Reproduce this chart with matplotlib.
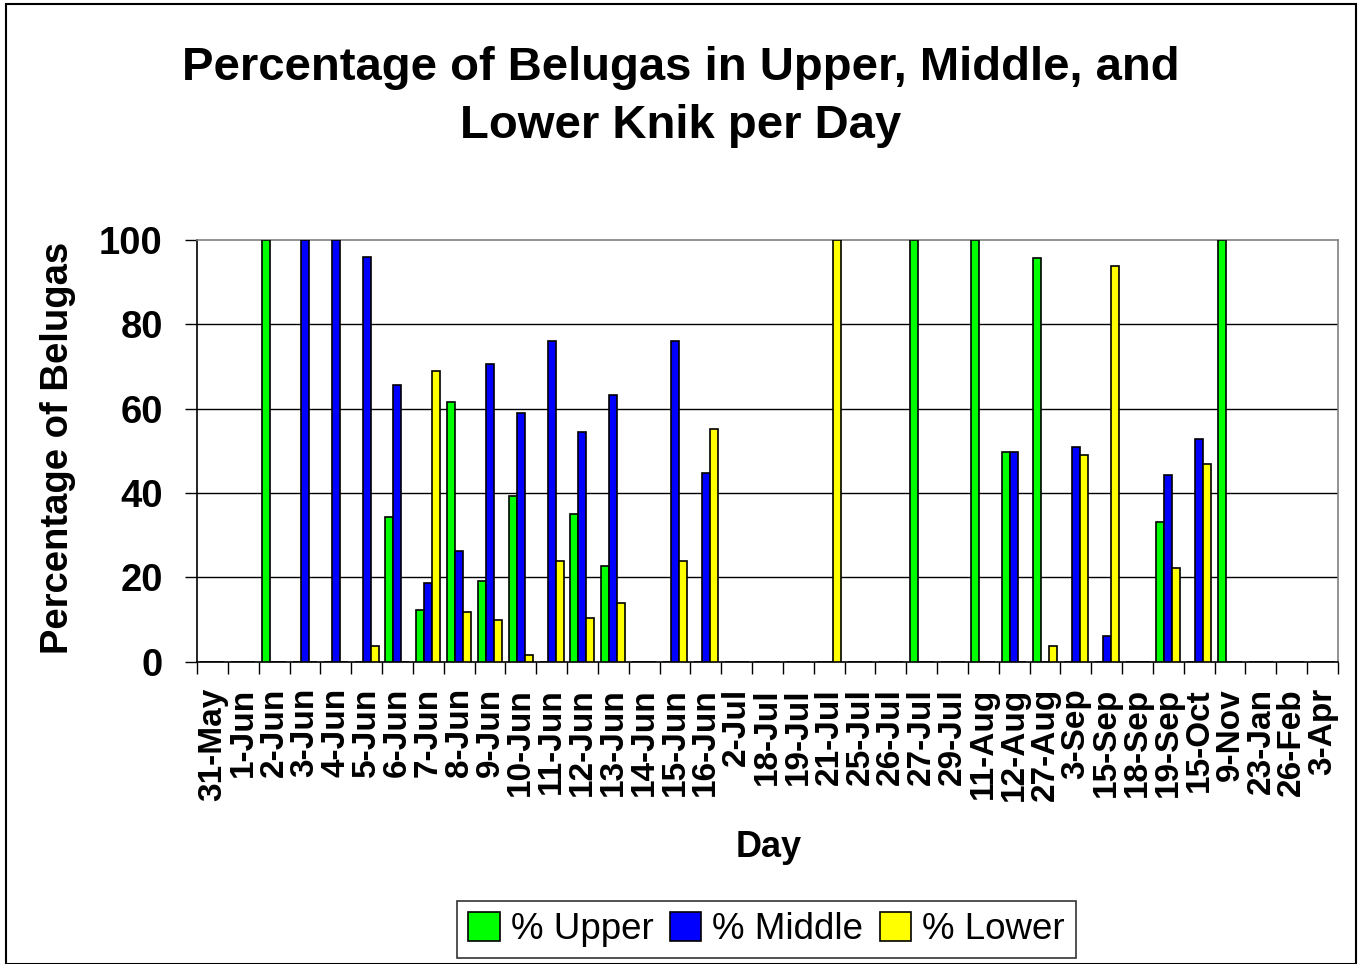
import matplotlib
matplotlib.use("Agg")
import matplotlib.pyplot as plt
import numpy as np
from matplotlib.patches import Rectangle

plt.rcParams['font.family'] = ['Liberation Sans', 'DejaVu Sans']

days = ["31-May", "1-Jun", "2-Jun", "3-Jun", "4-Jun", "5-Jun", "6-Jun", "7-Jun",
        "8-Jun", "9-Jun", "10-Jun", "11-Jun", "12-Jun", "13-Jun", "14-Jun",
        "15-Jun", "16-Jun", "2-Jul", "18-Jul", "19-Jul", "21-Jul", "25-Jul",
        "26-Jul", "27-Jul", "29-Jul", "11-Aug", "12-Aug", "27-Aug", "3-Sep",
        "15-Sep", "18-Sep", "19-Sep", "15-Oct", "9-Nov", "23-Jan", "26-Feb", "3-Apr"]

upper = [0, 0, 100, 0, 0, 0, 34.4, 12.3, 61.7, 19.2, 39.4, 0, 35.1, 22.8, 0,
         0, 0, 0, 0, 0, 0, 0, 0, 100, 0, 100, 49.8, 95.7, 0, 0, 0, 33.1, 0, 100, 0, 0, 0]
middle = [0, 0, 0, 100, 100, 96.0, 65.5, 18.6, 26.2, 70.6, 59.0, 76.0, 54.5, 63.3, 0,
          76.0, 44.7, 0, 0, 0, 0, 0, 0, 0, 0, 0, 49.8, 0, 50.9, 6.1, 0, 44.3, 52.8, 0, 0, 0, 0]
lower = [0, 0, 0, 0, 0, 3.7, 0, 69.0, 11.9, 10.0, 1.5, 23.9, 10.4, 13.9, 0,
         23.9, 55.2, 0, 0, 0, 100, 0, 0, 0, 0, 0, 0, 3.7, 48.9, 93.8, 0, 22.3, 47.0, 0, 0, 0, 0]

series = [("% Upper", upper, "#00FF00"),
          ("% Middle", middle, "#0000FF"),
          ("% Lower", lower, "#FFFF00")]

W, H = 1359, 964
fig = plt.figure(figsize=(W / 100, H / 100), dpi=100)
fig.patch.set_facecolor("white")

# outer chart border
fig.patches.append(Rectangle((6 / W, 0), (1356 - 6) / W, 1 - 4 / H,
                             transform=fig.transFigure, fill=False,
                             edgecolor="black", linewidth=1.5))

left, right, top, bottom = 197 / W, 1338 / W, 1 - 240 / H, 1 - 661.7 / H
ax = fig.add_axes([left, bottom, right - left, top - bottom])

x = np.arange(len(days))
bw = 0.26
for i, (name, vals, col) in enumerate(series):
    ax.bar(x + (i - 1) * bw, vals, width=bw, color=col, edgecolor="black",
           linewidth=1.2, label=name, zorder=3)

ax.set_xlim(-0.5, len(days) - 0.5)
ax.set_ylim(0, 100)

ax.set_yticks([0, 20, 40, 60, 80, 100])
ax.set_yticklabels(["0", "20", "40", "60", "80", "100"],
                   fontsize=27.5, fontweight="bold")
for v in [20, 40, 60, 80]:
    ax.axhline(v, color="black", linewidth=1.0, zorder=1)

ax.set_xticks(x)
ax.set_xticklabels(days, rotation=90, fontsize=24, fontweight="bold")
ax.set_xticks(np.arange(len(days) + 1) - 0.5, minor=True)
ax.tick_params(axis="x", which="major", length=0, pad=19)
ax.tick_params(axis="x", which="minor", length=8.6, width=1.0, color="black")
ax.tick_params(axis="y", which="major", length=8.6, width=1.0, pad=16)

for s in ["left", "bottom"]:
    ax.spines[s].set_color("black")
    ax.spines[s].set_linewidth(1.2)
for s in ["top", "right"]:
    ax.spines[s].set_color("#808080")
    ax.spines[s].set_linewidth(1.2)

ax.set_ylabel("Percentage of Belugas", fontsize=27.5, fontweight="bold")
ax.yaxis.set_label_coords(-0.1218, 0.507)
ax.yaxis.label.set_va("center")
ax.set_xlabel("Day", fontsize=26, fontweight="bold")
ax.xaxis.set_label_coords(0.501, -0.44)
ax.xaxis.label.set_va("center")

fig.text(681 / W, 1 - 97 / H, "Percentage of Belugas in Upper, Middle, and\nLower Knik per Day",
         ha="center", va="center", fontsize=34, fontweight="bold", linespacing=1.42)

leg = fig.legend(loc="center", bbox_to_anchor=(766.5 / W, 1 - 929.5 / H), ncol=3,
                 fontsize=26.5, frameon=True, fancybox=False, edgecolor="black",
                 handlelength=0.85, handleheight=0.85, handletextpad=0.3,
                 columnspacing=0.45, borderpad=0.3)
leg.get_frame().set_linewidth(1.2)

fig.savefig("out.png", dpi=100, facecolor="white")
